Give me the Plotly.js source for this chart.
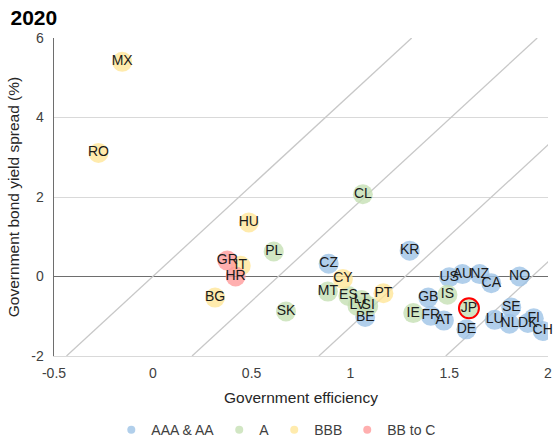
<!DOCTYPE html>
<html>
<head>
<meta charset="utf-8">
<script src="https://cdn.plot.ly/plotly-3.0.1.min.js"></script>
<style>html,body{margin:0;padding:0;background:#fff;}#chart{width:553px;height:438px;}</style>
</head>
<body>
<div id="chart"></div>
<script>
// ---- Data ----
const aaaCodes = ['CZ','KR','BE','GB','FR','AT','DE','US','AU','NZ','CA','NO','SE','LU','NL','DK','FI','CH'];
const aaaX = [0.89, 1.30, 1.075, 1.394, 1.407, 1.473, 1.587, 1.50, 1.567, 1.654, 1.713, 1.856, 1.814, 1.73, 1.805, 1.898, 1.928, 1.973];
const aaaY = [0.32, 0.65, -1.02, -0.53, -0.99, -1.11, -1.33, -0.02, 0.06, 0.06, -0.17, 0.0, -0.78, -1.09, -1.19, -1.17, -1.05, -1.37];

const aCodes = ['CL','PL','SK','MT','ES','LT','LV','SI','IE','IS','JP'];
const aX = [1.063, 0.612, 0.674, 0.886, 0.99, 1.056, 1.036, 1.09, 1.318, 1.491, 1.60];
const aY = [2.07, 0.63, -0.88, -0.38, -0.49, -0.59, -0.74, -0.74, -0.92, -0.46, -0.80];

const bbbCodes = ['MX','RO','HU','IT','BG','CY','PT'];
const bbbX = [-0.155, -0.275, 0.486, 0.445, 0.315, 0.962, 1.167];
const bbbY = [5.40, 3.11, 1.36, 0.27, -0.53, -0.06, -0.42];

const bbcCodes = ['GR','HR'];
const bbcX = [0.377, 0.419];
const bbcY = [0.40, 0.0];

const highlightCodes = ['JP'];

const categoryNames = ['AAA & AA', 'A', 'BBB', 'BB to C'];

// reference diagonals: y = slope * x + intercept
const diagSlope = 4.58;
const diagIntercepts = [0, -2.91, -5.85, -8.79];

const xTickVals = [-0.5, 0, 0.5, 1, 1.5, 2];
const xTickText = ['-0.5', '0', '0.5', '1', '1.5', '2'];
const yTickVals = [-2, 0, 2, 4, 6];
const yTickText = ['-2', '0', '2', '4', '6'];

// ---- Styles ----
const colors = ['#9DC3E6', '#C5E0B4', '#FFE699', '#FF9B9B'];
const FONT = 'Arial, "Liberation Sans", sans-serif';

const groups = [
  {codes: aaaCodes, x: aaaX, y: aaaY},
  {codes: aCodes, x: aX, y: aY},
  {codes: bbbCodes, x: bbbX, y: bbbY},
  {codes: bbcCodes, x: bbcX, y: bbcY}
];

const traces = [];
const yLo = -2, yHi = 6;
diagIntercepts.forEach(b => {
  traces.push({
    type: 'scatter', mode: 'lines',
    x: [(yLo - b) / diagSlope, (yHi - b) / diagSlope],
    y: [yLo, yHi],
    line: {color: '#C8C8C8', width: 1.3},
    hoverinfo: 'skip', showlegend: false
  });
});

groups.forEach((g, i) => {
  traces.push({
    type: 'scatter', mode: 'markers',
    x: g.x, y: g.y, name: categoryNames[i],
    marker: {size: 20, color: colors[i], opacity: 0.8, line: {width: 0}},
    showlegend: false
  });
});

// highlight ring(s)
const allCodes = [].concat(...groups.map(g => g.codes));
const allX = [].concat(...groups.map(g => g.x));
const allY = [].concat(...groups.map(g => g.y));
const hx = [], hy = [];
highlightCodes.forEach(c => { const k = allCodes.indexOf(c); hx.push(allX[k]); hy.push(allY[k]); });
traces.push({
  type: 'scatter', mode: 'markers', x: hx, y: hy,
  marker: {size: 20, color: 'rgba(0,0,0,0)', line: {color: '#FF0000', width: 2}},
  showlegend: false, hoverinfo: 'skip'
});

// labels on top
traces.push({
  type: 'scatter', mode: 'text', x: allX, y: allY, text: allCodes,
  textposition: 'middle center',
  textfont: {family: FONT, size: 14, color: '#1a1a1a'},
  showlegend: false, hoverinfo: 'skip', cliponaxis: false
});

// legend entries
categoryNames.forEach((n, i) => {
  traces.push({
    type: 'scatter', mode: 'markers', x: [null], y: [null], name: n,
    marker: {size: 8, color: colors[i], opacity: 0.8}
  });
});

const layout = {
  width: 553, height: 438,
  margin: {l: 54, r: 5, t: 38, b: 82, pad: 0, autoexpand: false},
  paper_bgcolor: '#fff', plot_bgcolor: '#fff',
  font: {family: FONT, size: 14, color: '#595959'},
  title: {
    text: '<b>2020</b>', font: {family: FONT, size: 21, color: '#000'},
    x: 0.019, xanchor: 'left', xref: 'container',
    y: 1 - 17.5 / 438, yanchor: 'middle', yref: 'container'
  },
  xaxis: {
    range: [-0.5, 2], tickvals: xTickVals, ticktext: xTickText,
    showgrid: false, zeroline: false,
    showline: true, linecolor: '#D9D9D9', linewidth: 1,
    ticks: '', tickfont: {family: FONT, size: 14, color: '#404040'},
    ticklabeloverflow: 'allow', ticklabelstandoff: 4,
    title: {text: 'Government efficiency', font: {family: FONT, size: 15.5, color: '#262626'}, standoff: 12}
  },
  yaxis: {
    range: [-2, 6], tickvals: yTickVals, ticktext: yTickText,
    showgrid: true, gridcolor: '#D9D9D9', gridwidth: 1,
    zeroline: true, zerolinecolor: '#6E6E6E', zerolinewidth: 1.5,
    showline: true, linecolor: '#6E6E6E', linewidth: 1.5,
    ticks: '', tickfont: {family: FONT, size: 14, color: '#404040'},
    ticklabelstandoff: 6,
    title: {text: 'Government bond yield spread (%)', font: {family: FONT, size: 15.5, color: '#262626'}, standoff: 8}
  },
  showlegend: true,
  legend: {
    orientation: 'h', xref: 'paper', yref: 'paper',
    x: 0.45, xanchor: 'center', y: -0.233, yanchor: 'middle',
    font: {family: FONT, size: 14, color: '#404040'},
    bgcolor: 'rgba(0,0,0,0)', itemwidth: 30, tracegroupgap: 0
  },
  hovermode: false
};

Plotly.newPlot('chart', traces, layout, {displayModeBar: false, staticPlot: true});
</script>
</body>
</html>
